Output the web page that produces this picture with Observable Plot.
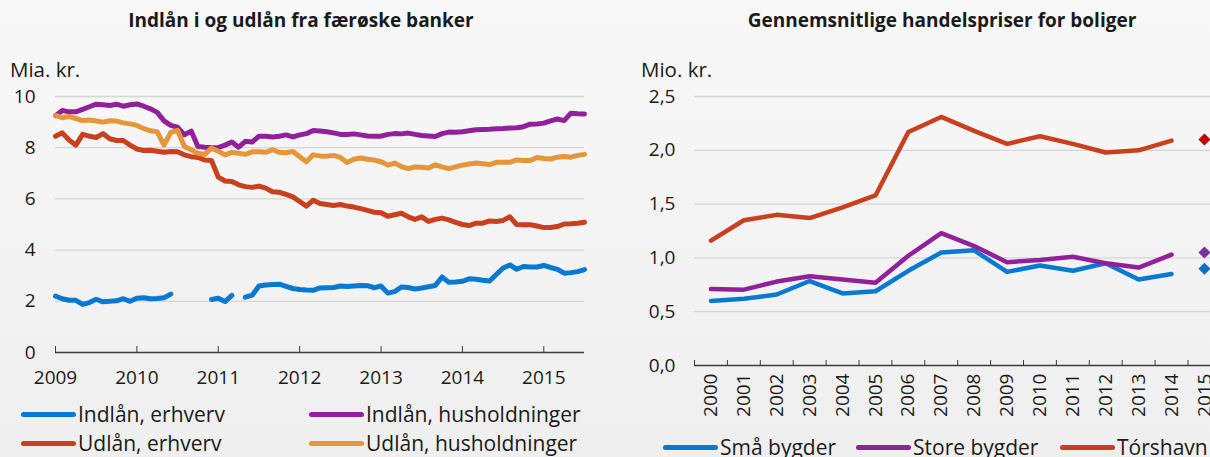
<!DOCTYPE html>
<html><head><meta charset="utf-8">
<script src="https://cdn.jsdelivr.net/npm/d3@7"></script>
<script src="https://cdn.jsdelivr.net/npm/@observablehq/plot@0.6"></script>
<style>
html,body{margin:0;padding:0;width:1210px;height:457px;overflow:hidden;background:linear-gradient(#f8f8f8,#efefef);font-family:"Open Sans",sans-serif;color:#1a1a1a}
#root{position:relative;width:1210px;height:457px;overflow:hidden}
.t{position:absolute;line-height:1;white-space:nowrap}
.title{font-weight:bold;font-size:19px}
.lg{position:absolute;display:flex;align-items:center;font-size:21px;line-height:1;white-space:nowrap}
.sw{width:55px;height:5px;border-radius:3px;margin-right:2px;flex:none}
.chart{position:absolute;top:0}
.chart svg{max-width:none !important}
</style></head><body>
<div id="root"></div>
<script>
// ---------- Left chart: monthly data Jan 2009 - Jul 2015 (mia. kr.) ----------
const startYear = 2009;
const indlaanErhverv = [2.20,2.10,2.04,2.04,1.88,1.95,2.08,1.98,2.00,2.02,2.10,2.00,2.12,2.14,2.10,2.11,2.14,2.28,
  null,null,null,null,null,2.07,2.12,1.99,2.23,null,2.16,2.24,2.60,2.64,2.66,2.67,2.58,2.50,2.46,2.44,2.43,2.52,
  2.53,2.54,2.60,2.58,2.60,2.62,2.61,2.53,2.60,2.32,2.38,2.56,2.54,2.48,2.52,2.57,2.62,2.95,2.74,2.75,2.78,2.88,
  2.86,2.82,2.79,3.05,3.30,3.42,3.25,3.36,3.34,3.34,3.40,3.32,3.25,3.10,3.12,3.16,3.24];
const indlaanHush = [9.25,9.45,9.40,9.40,9.50,9.60,9.70,9.68,9.65,9.70,9.62,9.68,9.71,9.62,9.52,9.38,9.05,8.87,8.80,
  8.50,8.65,8.05,8.02,8.00,8.00,8.10,8.22,8.02,8.25,8.22,8.45,8.45,8.42,8.45,8.50,8.42,8.50,8.55,8.67,8.65,8.62,
  8.58,8.52,8.52,8.54,8.50,8.46,8.45,8.45,8.52,8.55,8.54,8.57,8.52,8.48,8.46,8.44,8.55,8.61,8.60,8.62,8.66,8.70,
  8.71,8.72,8.74,8.75,8.77,8.78,8.82,8.92,8.93,8.96,9.05,9.12,9.06,9.35,9.33,9.32];
const udlaanErhverv = [8.45,8.58,8.30,8.10,8.52,8.45,8.40,8.55,8.35,8.28,8.28,8.10,7.95,7.89,7.90,7.86,7.82,7.85,
  7.84,7.72,7.65,7.62,7.52,7.50,6.85,6.70,6.68,6.55,6.48,6.45,6.50,6.42,6.28,6.26,6.18,6.08,5.90,5.72,5.95,5.82,
  5.78,5.74,5.78,5.72,5.68,5.62,5.55,5.48,5.46,5.32,5.38,5.44,5.30,5.20,5.30,5.12,5.20,5.25,5.18,5.08,5.00,4.96,
  5.05,5.05,5.14,5.12,5.16,5.30,5.00,4.99,4.99,4.94,4.88,4.88,4.92,5.02,5.03,5.05,5.09];
const udlaanHush = [9.26,9.17,9.22,9.14,9.06,9.08,9.04,9.00,9.05,9.04,8.97,8.93,8.87,8.75,8.66,8.62,8.10,8.60,8.68,
  8.05,7.92,7.78,7.74,7.98,7.86,7.72,7.82,7.78,7.74,7.84,7.84,7.82,7.92,7.82,7.80,7.85,7.65,7.45,7.72,7.68,7.67,
  7.70,7.62,7.42,7.55,7.60,7.55,7.52,7.45,7.32,7.40,7.26,7.18,7.25,7.24,7.21,7.33,7.25,7.18,7.25,7.32,7.36,7.40,
  7.37,7.34,7.43,7.43,7.43,7.52,7.50,7.50,7.62,7.58,7.56,7.63,7.66,7.63,7.70,7.74];
const leftSeries = ["Indlån, erhverv","Indlån, husholdninger","Udlån, erhverv","Udlån, husholdninger"];
const leftColors = ["#0879d3","#93209b","#c9401f","#e5963a"];
const leftYTicks = [0,2,4,6,8,10];
const leftXTicks = [2009,2010,2011,2012,2013,2014,2015];

// ---------- Right chart: yearly data (mio. kr.) ----------
const years = [2000,2001,2002,2003,2004,2005,2006,2007,2008,2009,2010,2011,2012,2013,2014];
const smaaBygder = [0.60,0.62,0.66,0.785,0.67,0.69,0.88,1.05,1.07,0.87,0.93,0.88,0.95,0.80,0.85];
const storeBygder = [0.71,0.705,0.78,0.83,0.80,0.77,1.02,1.23,1.11,0.96,0.98,1.01,0.95,0.91,1.03];
const torshavn = [1.16,1.35,1.40,1.37,1.47,1.58,2.17,2.31,2.18,2.06,2.13,2.06,1.98,2.00,2.09];
const extraYear = 2015;
const extraValues = [0.90,1.05,2.10]; // Små bygder, Store bygder, Tórshavn
const rightSeries = ["Små bygder","Store bygder","Tórshavn"];
const rightColors = ["#0879d3","#93209b","#c9401f"];
const diamondColors = ["#0070c0","#7a30a0","#c00000"];
const rightYTicks = [0,0.5,1,1.5,2,2.5];
const allYears = [...years, extraYear];

const font = '"Open Sans", sans-serif';

// build left table
const leftArrays = [indlaanErhverv, indlaanHush, udlaanErhverv, udlaanHush];
const leftData = [];
leftArrays.forEach((arr, s) => arr.forEach((v, i) => leftData.push({series: leftSeries[s], t: startYear + i/12, v})));

const left = Plot.plot({
  width: 600, height: 457,
  marginTop: 96, marginBottom: 105, marginLeft: 55, marginRight: 16,
  style: {background: "transparent", fontFamily: font, fontSize: "19px", color: "#1a1a1a", overflow: "visible", maxWidth: "none"},
  x: {domain: [2009, 2015.5]},
  y: {domain: [0, 10]},
  color: {domain: leftSeries, range: leftColors},
  marks: [
    Plot.ruleY(leftYTicks.filter(d => d > 0), {stroke: "#d6d6d6", strokeWidth: 1.3}),
    Plot.axisY({ticks: leftYTicks, tickSize: 0, tickPadding: 20, label: null, fontSize: 19}),
    Plot.line(leftData, {x: "t", y: "v", z: "series", stroke: "series", strokeWidth: 5, strokeLinejoin: "round", strokeLinecap: "round", defined: d => d.v != null}),
    Plot.ruleY([0], {stroke: "#3c3c3c", strokeWidth: 1.5}),
    Plot.axisX({ticks: leftXTicks, tickSize: -6, tickPadding: 24, tickFormat: d => String(d), label: null, fontSize: 19, stroke: "#3c3c3c"})
  ]
});

// build right table
const rightArrays = [smaaBygder, storeBygder, torshavn];
const rightData = [];
rightArrays.forEach((arr, s) => arr.forEach((v, i) => rightData.push({series: rightSeries[s], year: years[i], v})));
const extraData = extraValues.map((v, s) => ({series: rightSeries[s], year: extraYear, v, c: diamondColors[s]}));
const boundaries = [...allYears.map(y => y - 0.5), extraYear + 0.5];

const right = Plot.plot({
  width: 640, height: 457,
  marginTop: 96, marginBottom: 92, marginLeft: 94, marginRight: 19.6,
  style: {background: "transparent", fontFamily: font, fontSize: "19px", color: "#1a1a1a", overflow: "visible", maxWidth: "none"},
  x: {domain: [1999.5, 2015.5]},
  y: {domain: [0, 2.5]},
  color: {domain: rightSeries, range: rightColors},
  marks: [
    Plot.ruleY(rightYTicks.filter(d => d > 0), {stroke: "#d6d6d6", strokeWidth: 1.3}),
    Plot.axisY({ticks: rightYTicks, tickSize: 0, tickPadding: 19, label: null, fontSize: 19, tickFormat: d => d.toFixed(1).replace(".", ",")}),
    Plot.line(rightData, {x: "year", y: "v", z: "series", stroke: "series", strokeWidth: 4.5, strokeLinejoin: "round", strokeLinecap: "round"}),
    Plot.dot(extraData, {x: "year", y: "v", fill: d => d.c, symbol: "square", r: 4.8, rotate: 45, stroke: null}),
    Plot.ruleY([0], {stroke: "#3c3c3c", strokeWidth: 1.5}),
    Plot.axisX({ticks: boundaries, tickSize: -5, tickFormat: () => "", label: null, stroke: "#3c3c3c"}),
    Plot.axisX({ticks: allYears, tickSize: 0, tickPadding: 8, tickRotate: -90, tickFormat: d => String(d), label: null, fontSize: 19})
  ]
});

const root = document.getElementById("root");
const lw = document.createElement("div"); lw.className = "chart"; lw.style.left = "0px"; lw.style.width = "600px"; lw.appendChild(left); root.appendChild(lw);
const rw = document.createElement("div"); rw.className = "chart"; rw.style.left = "600px"; rw.style.width = "640px"; rw.appendChild(right); root.appendChild(rw);

function addText(txt, x, y, cls, extra) {
  const d = document.createElement("div");
  d.className = "t " + (cls || "");
  d.textContent = txt;
  d.style.left = x + "px"; d.style.top = y + "px";
  if (extra) Object.assign(d.style, extra);
  root.appendChild(d);
  return d;
}
addText("Indlån i og udlån fra færøske banker", 301, 11, "title", {transform: "translateX(-50%)"});
addText("Gennemsnitlige handelspriser for boliger", 942, 11, "title", {transform: "translateX(-50%)"});
addText("Mia. kr.", 10, 59, "", {fontSize: "20.5px"});
addText("Mio. kr.", 641, 59, "", {fontSize: "20.5px"});

function addLegend(label, color, x, yCenter) {
  const d = document.createElement("div");
  d.className = "lg";
  d.style.left = x + "px"; d.style.top = (yCenter - 12) + "px"; d.style.height = "24px";
  const s = document.createElement("div"); s.className = "sw"; s.style.background = color;
  const t = document.createElement("span"); t.textContent = label;
  d.appendChild(s); d.appendChild(t);
  root.appendChild(d);
}
addLegend(leftSeries[0], leftColors[0], 21, 414);
addLegend(leftSeries[1], leftColors[1], 309, 414);
addLegend(leftSeries[2], leftColors[2], 21, 443);
addLegend(leftSeries[3], leftColors[3], 309, 443);
addLegend(rightSeries[0], rightColors[0], 663, 447);
addLegend(rightSeries[1], rightColors[1], 856, 447);
addLegend(rightSeries[2], rightColors[2], 1060, 447);
</script>
</body></html>
